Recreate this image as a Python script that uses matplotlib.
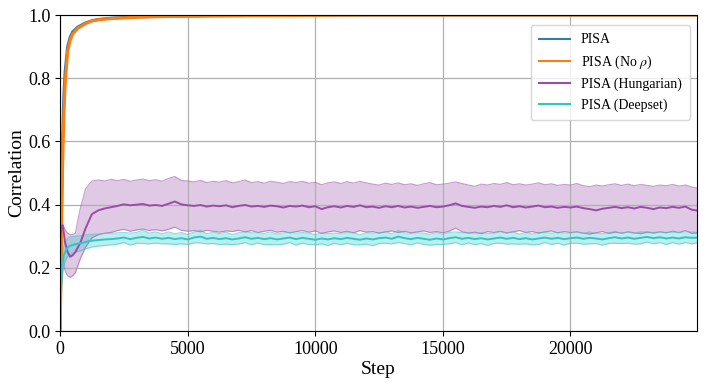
import matplotlib
matplotlib.use('Agg')
import matplotlib.pyplot as plt
import numpy as np

plt.rcParams['font.family'] = ['Liberation Serif', 'DejaVu Serif']
plt.rcParams['mathtext.fontset'] = 'stix'

# ==== datos ====

# PISA y PISA sin rho (curvas suaves, pasos irregulares)
pisa_steps = [0, 25, 50, 75, 100, 150, 200, 300, 400, 500, 700, 1000, 1250, 1500,
              2000, 2500, 3000, 4000, 5000, 6000, 7000, 8000, 10000, 12000, 15000, 20000, 25000]
pisa = [0.0, 0.15, 0.33, 0.48, 0.60, 0.74, 0.82, 0.90, 0.93, 0.947, 0.962, 0.975, 0.982, 0.986,
        0.990, 0.992, 0.994, 0.996, 0.997, 0.998, 0.998, 0.999, 0.9995, 1.0, 1.0, 1.0, 1.0]
pisa_norho = [0.0, 0.10, 0.25, 0.40, 0.52, 0.68, 0.78, 0.885, 0.92, 0.94, 0.958, 0.973, 0.981, 0.985,
              0.989, 0.991, 0.993, 0.995, 0.996, 0.997, 0.998, 0.998, 0.999, 1.0, 1.0, 1.0, 1.0]

# Hungarian y Deepset
steps = [0, 25, 50, 100, 150, 200, 300, 400, 500, 600, 800, 1000, 1250, 1500, 1750, 2000] + \
    list(range(2250, 25001, 250))

hung_mean = [0.25, 0.30, 0.33, 0.335, 0.31, 0.28, 0.25, 0.235, 0.24, 0.25, 0.28, 0.325, 0.37, 0.382, 0.388, 0.392,
             0.396, 0.401, 0.398, 0.400, 0.402, 0.397, 0.399, 0.396, 0.403, 0.410, 0.401, 0.398,
             0.396, 0.399, 0.394, 0.397, 0.395, 0.398, 0.392, 0.396, 0.399, 0.394, 0.396, 0.393,
             0.397, 0.395, 0.391, 0.396, 0.394, 0.397, 0.392, 0.395, 0.386, 0.392, 0.395, 0.391,
             0.396, 0.393, 0.398, 0.392, 0.394, 0.390, 0.395, 0.392, 0.396, 0.391, 0.394, 0.390,
             0.393, 0.396, 0.392, 0.394, 0.398, 0.404, 0.396, 0.393, 0.390, 0.394, 0.392, 0.396,
             0.393, 0.398, 0.392, 0.395, 0.391, 0.394, 0.397, 0.392, 0.394, 0.390, 0.393, 0.391,
             0.394, 0.389, 0.386, 0.382, 0.387, 0.390, 0.393, 0.389, 0.392, 0.388, 0.393, 0.390,
             0.386, 0.391, 0.389, 0.393, 0.390, 0.394, 0.384, 0.381]
hung_hi = [0.34, 0.345, 0.345, 0.34, 0.33, 0.32, 0.31, 0.305, 0.305, 0.31, 0.39, 0.45, 0.475, 0.478, 0.475, 0.48,
           0.476, 0.480, 0.474, 0.478, 0.481, 0.476, 0.479, 0.474, 0.483, 0.489, 0.477, 0.475,
           0.472, 0.477, 0.470, 0.474, 0.471, 0.476, 0.469, 0.473, 0.478, 0.470, 0.473, 0.468,
           0.474, 0.471, 0.467, 0.473, 0.470, 0.474, 0.468, 0.471, 0.463, 0.469, 0.472, 0.467,
           0.473, 0.468, 0.474, 0.469, 0.465, 0.462, 0.468, 0.464, 0.469, 0.463, 0.466, 0.461,
           0.466, 0.470, 0.463, 0.465, 0.468, 0.472, 0.467, 0.462, 0.458, 0.465, 0.462, 0.467,
           0.464, 0.470, 0.463, 0.466, 0.462, 0.465, 0.469, 0.463, 0.466, 0.461, 0.464, 0.462,
           0.467, 0.460, 0.457, 0.462, 0.459, 0.463, 0.466, 0.461, 0.465, 0.460, 0.464, 0.461,
           0.458, 0.462, 0.460, 0.464, 0.459, 0.462, 0.456, 0.452]
hung_lo = [0.28, 0.28, 0.27, 0.25, 0.22, 0.19, 0.175, 0.17, 0.175, 0.185, 0.23, 0.265, 0.295, 0.305, 0.31, 0.312,
           0.318, 0.322, 0.316, 0.320, 0.323, 0.318, 0.321, 0.317, 0.322, 0.329, 0.319, 0.316,
           0.318, 0.314, 0.319, 0.316, 0.313, 0.317, 0.315, 0.319, 0.314, 0.318, 0.312, 0.316,
           0.319, 0.313, 0.316, 0.311, 0.315, 0.318, 0.313, 0.317, 0.309, 0.314, 0.317, 0.312,
           0.316, 0.311, 0.318, 0.313, 0.315, 0.310, 0.314, 0.317, 0.312, 0.316, 0.311, 0.314,
           0.317, 0.312, 0.315, 0.311, 0.316, 0.326, 0.314, 0.310, 0.313, 0.308, 0.315, 0.312,
           0.316, 0.311, 0.314, 0.318, 0.312, 0.315, 0.310, 0.314, 0.317, 0.311, 0.315, 0.312,
           0.314, 0.310, 0.307, 0.311, 0.315, 0.309, 0.313, 0.310, 0.314, 0.311, 0.308, 0.313,
           0.310, 0.314, 0.311, 0.316, 0.312, 0.318, 0.309, 0.311]

deep_mean = [0.0, 0.10, 0.16, 0.21, 0.24, 0.25, 0.265, 0.27, 0.272, 0.275, 0.278, 0.282, 0.286, 0.288, 0.29, 0.291,
             0.293, 0.296, 0.291, 0.295, 0.298, 0.293, 0.296, 0.292, 0.295, 0.291, 0.294, 0.290,
             0.296, 0.299, 0.292, 0.295, 0.291, 0.294, 0.290, 0.293, 0.297, 0.292, 0.295, 0.291,
             0.294, 0.290, 0.293, 0.296, 0.291, 0.295, 0.292, 0.289, 0.293, 0.290, 0.294, 0.291,
             0.295, 0.292, 0.289, 0.293, 0.290, 0.294, 0.296, 0.292, 0.299, 0.294, 0.291, 0.295,
             0.292, 0.289, 0.293, 0.290, 0.294, 0.297, 0.292, 0.295, 0.291, 0.294, 0.290, 0.293,
             0.296, 0.292, 0.295, 0.291, 0.294, 0.290, 0.293, 0.296, 0.292, 0.295, 0.291, 0.294,
             0.296, 0.292, 0.295, 0.293, 0.290, 0.294, 0.297, 0.293, 0.296, 0.292, 0.295, 0.298,
             0.294, 0.297, 0.293, 0.296, 0.293, 0.297, 0.295, 0.296]
deep_err = [0.0, 0.03, 0.035, 0.035, 0.03, 0.03, 0.028, 0.028, 0.027, 0.025, 0.024, 0.022, 0.02, 0.019, 0.019, 0.018,
            0.018, 0.016, 0.019, 0.017, 0.021, 0.017, 0.018, 0.016, 0.019, 0.017, 0.018, 0.016,
            0.017, 0.020, 0.016, 0.018, 0.017, 0.019, 0.016, 0.018, 0.017, 0.019, 0.016, 0.018,
            0.020, 0.017, 0.018, 0.016, 0.019, 0.017, 0.018, 0.016, 0.017, 0.019, 0.016, 0.018,
            0.017, 0.019, 0.016, 0.018, 0.020, 0.017, 0.018, 0.016, 0.019, 0.017, 0.018, 0.016,
            0.018, 0.017, 0.019, 0.016, 0.018, 0.017, 0.019, 0.016, 0.018, 0.017, 0.019, 0.016,
            0.018, 0.017, 0.019, 0.016, 0.018, 0.017, 0.019, 0.016, 0.018, 0.017, 0.019, 0.016,
            0.018, 0.017, 0.019, 0.016, 0.018, 0.017, 0.019, 0.016, 0.018, 0.017, 0.019, 0.016,
            0.018, 0.017, 0.019, 0.016, 0.018, 0.017, 0.019, 0.016]

# ==== grafico ====

c_pisa, c_norho, c_hung, c_deep = '#3a78b0', '#ff7f0e', '#9a4ca8', '#2cc6c6'

fig = plt.figure(figsize=(7.06, 3.85), dpi=100)
ax = fig.add_axes([0.085, 0.140, 0.902, 0.821])

st = np.array(steps)
dm, de = np.array(deep_mean), np.array(deep_err)

ax.fill_between(st, hung_lo, hung_hi, color=c_hung, alpha=0.3, lw=0)
ax.plot(st, hung_lo, color=c_hung, alpha=0.55, lw=0.8)
ax.plot(st, hung_hi, color=c_hung, alpha=0.55, lw=0.8)

ax.fill_between(st, dm - de, dm + de, color=c_deep, alpha=0.3, lw=0)
ax.plot(st, dm - de, color=c_deep, alpha=0.55, lw=0.8)
ax.plot(st, dm + de, color=c_deep, alpha=0.55, lw=0.8)

ax.plot(pisa_steps, pisa, color=c_pisa, lw=2.2, label='PISA')
ax.plot(pisa_steps, pisa_norho, color=c_norho, lw=2.2, label=r'PISA (No $\rho$)')
ax.plot(st, hung_mean, color=c_hung, lw=1.4, label='PISA (Hungarian)')
ax.plot(st, dm, color=c_deep, lw=1.4, label='PISA (Deepset)')

ax.set_xlim(0, 24950)
ax.set_ylim(0, 1.0)
ax.set_xticks([0, 5000, 10000, 15000, 20000])
ax.set_yticks([0.0, 0.2, 0.4, 0.6, 0.8, 1.0])
ax.tick_params(labelsize=13)
ax.set_xlabel('Step', fontsize=14, labelpad=2)
ax.set_ylabel('Correlation', fontsize=14, labelpad=2)
ax.grid(True, color='#b0b0b0', lw=0.9)
leg = ax.legend(loc='upper right', fontsize=10, handlelength=2.2, borderpad=0.6,
                bbox_to_anchor=(1.0, 0.99))
for l in leg.get_lines():
    l.set_linewidth(1.5)

plt.savefig('out.png', dpi=100)
plt.close()
